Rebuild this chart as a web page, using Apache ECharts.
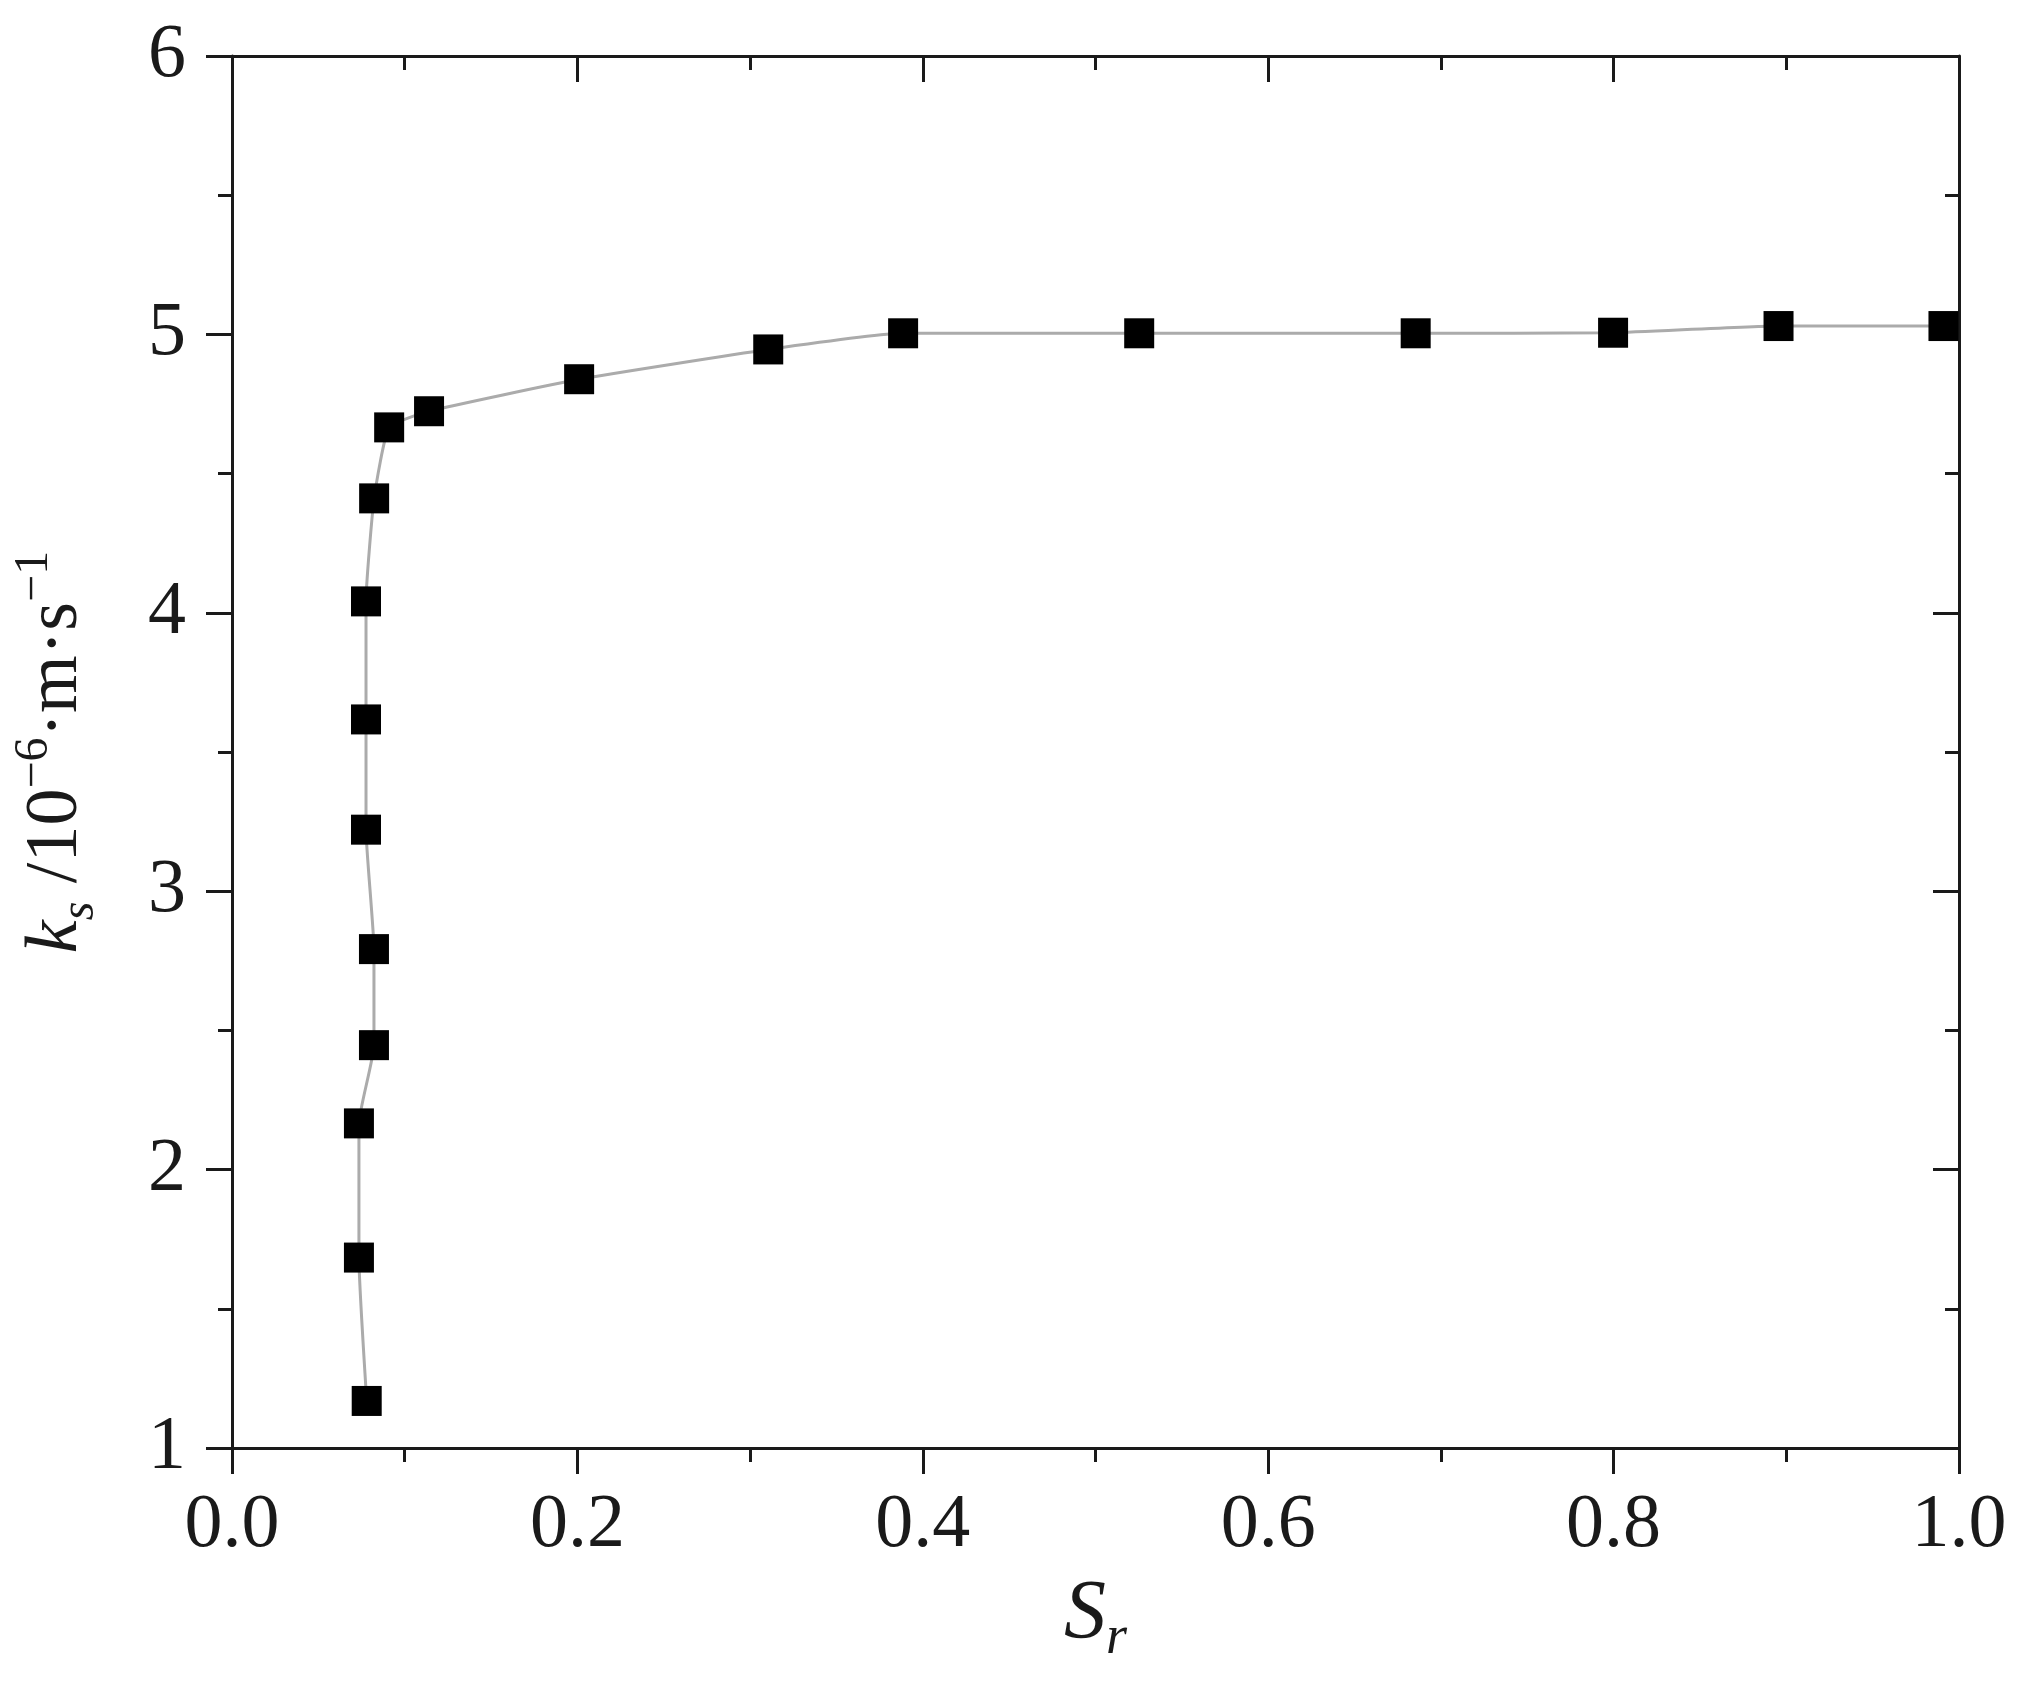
<!DOCTYPE html>
<html><head><meta charset="utf-8">
<script src="https://cdn.jsdelivr.net/npm/echarts@6/dist/echarts.min.js"></script>
<style>html,body{margin:0;padding:0;background:#fff}#c{width:2031px;height:1693px}</style>
</head><body><div id="c"></div>
<script>
// Data
const sr = [0.078, 0.0735, 0.0735, 0.0822, 0.0822, 0.0776, 0.0776, 0.0776, 0.0823, 0.091, 0.1141, 0.201, 0.3105, 0.3886, 0.5253, 0.6854, 0.7997, 0.8955, 0.991];
const ks = [1.169, 1.684, 2.166, 2.447, 2.792, 3.221, 3.617, 4.041, 4.411, 4.666, 4.724, 4.839, 4.946, 5.004, 5.004, 5.004, 5.006, 5.03, 5.03];
const xTickLabels = ['0.0', '0.2', '0.4', '0.6', '0.8', '1.0'];
const yTickLabels = ['1', '2', '3', '4', '5', '6'];

const FONT = "'Liberation Serif','Times New Roman',serif";
const AX = '#1a1a1a';
const points = sr.map((x, i) => [x, ks[i]]);

const chart = echarts.init(document.getElementById('c'), null, {renderer: 'canvas'});

const baseX = {
  type: 'value', min: 0, max: 1, interval: 0.2,
  axisLine: {show: true, onZero: false, lineStyle: {color: AX, width: 3}},
  splitLine: {show: false},
  minorTick: {show: true, splitNumber: 2, length: 14, lineStyle: {color: AX, width: 3}},
  axisTick: {show: true, length: 26, lineStyle: {color: AX, width: 3}}
};
const baseY = {
  type: 'value', min: 1, max: 6, interval: 1,
  axisLine: {show: true, onZero: false, lineStyle: {color: AX, width: 3}},
  splitLine: {show: false},
  minorTick: {show: true, splitNumber: 2, length: 14, lineStyle: {color: AX, width: 3}},
  axisTick: {show: true, length: 26, lineStyle: {color: AX, width: 3}}
};

chart.setOption({
  animation: false,
  backgroundColor: '#ffffff',
  grid: {left: 232, right: 72, top: 56, bottom: 245, containLabel: false},
  xAxis: [
    Object.assign({}, baseX, {
      position: 'bottom',
      axisLabel: {show: true, margin: 40, color: AX, fontFamily: FONT, fontSize: 76,
        formatter: (v) => xTickLabels[Math.round(v / 0.2)]},
      name: '{S|S}{r|r}', nameLocation: 'middle', nameGap: 118,
      nameTextStyle: {
        fontFamily: FONT,
        rich: {
          S: {fontFamily: FONT, fontStyle: 'italic', fontSize: 84, color: AX, lineHeight: 100},
          r: {fontFamily: FONT, fontStyle: 'italic', fontSize: 54, color: AX, verticalAlign: 'bottom', lineHeight: 54}
        }
      }
    }),
    Object.assign({}, baseX, {
      position: 'top',
      axisLabel: {show: false},
      axisTick: {show: true, inside: true, length: 26, lineStyle: {color: AX, width: 3}}
    })
  ],
  yAxis: [
    Object.assign({}, baseY, {
      position: 'left',
      axisLabel: {show: true, margin: 46, color: AX, fontFamily: FONT, fontSize: 76,
        formatter: (v) => yTickLabels[Math.round(v - 1)]},
      name: '{k|k}{sub|s}{n| /10}{sup|−6}{n|·m·s}{sup|−1}',
      nameLocation: 'middle', nameRotate: 90, nameGap: 128,
      nameTextStyle: {
        fontFamily: FONT,
        rich: {
          k: {fontFamily: FONT, fontStyle: 'italic', fontSize: 74, color: AX, lineHeight: 94},
          n: {fontFamily: FONT, fontSize: 74, color: AX, lineHeight: 94},
          sub: {fontFamily: FONT, fontStyle: 'italic', fontSize: 48, color: AX, verticalAlign: 'bottom', lineHeight: 52},
          sup: {fontFamily: FONT, fontSize: 48, color: AX, verticalAlign: 'top', lineHeight: 46}
        }
      }
    }),
    Object.assign({}, baseY, {
      position: 'right',
      axisLabel: {show: false},
      axisTick: {show: true, inside: true, length: 26, lineStyle: {color: AX, width: 3}}
    })
  ],
  series: [{
    type: 'line',
    xAxisIndex: 0, yAxisIndex: 0,
    data: points,
    smooth: 0.15,
    symbol: 'rect',
    symbolSize: 30,
    showSymbol: true,
    clip: false,
    lineStyle: {color: '#ababab', width: 3},
    itemStyle: {color: '#000000'},
    z: 3
  }]
});
</script>
</body></html>
